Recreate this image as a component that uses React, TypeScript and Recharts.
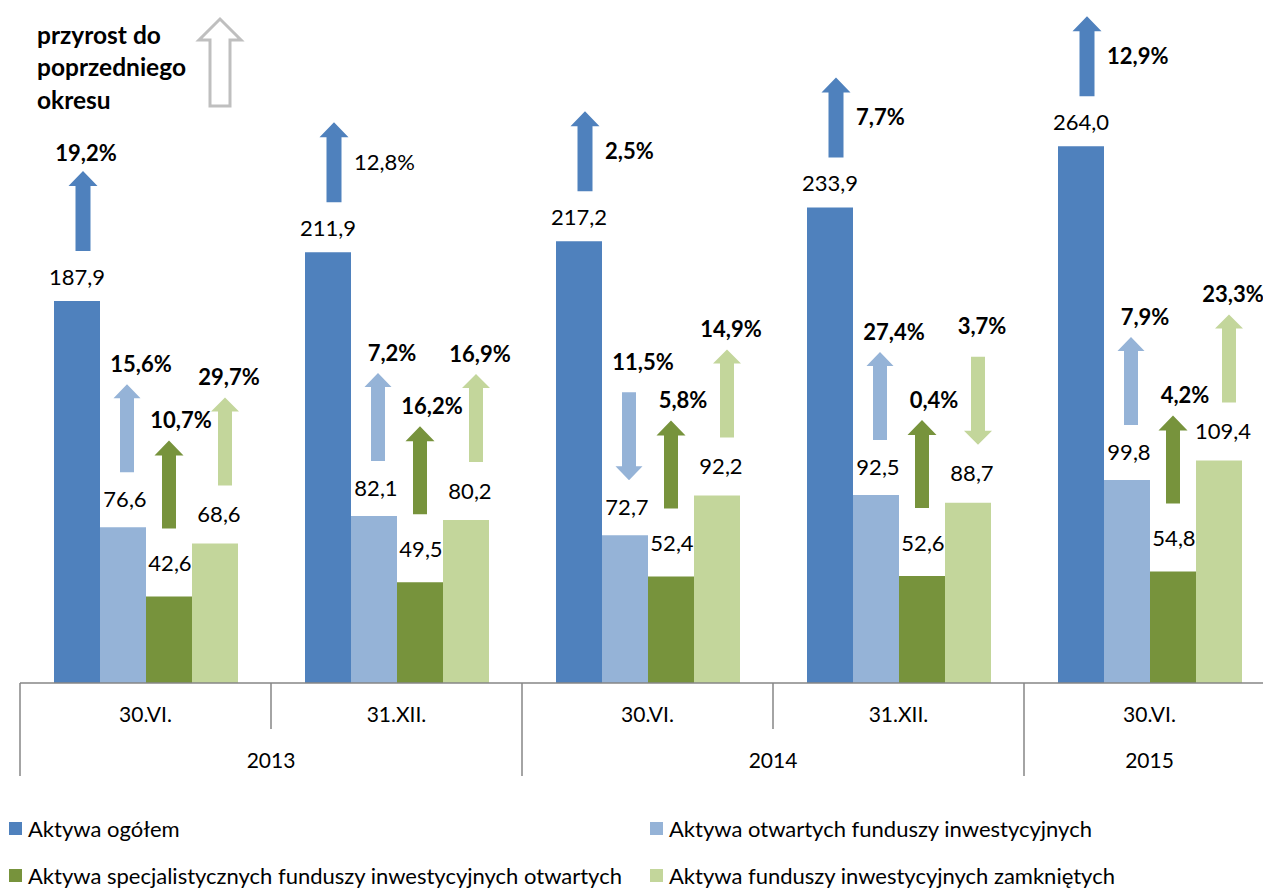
import { BarChart, Bar, XAxis, YAxis, LabelList, Legend, Customized } from "recharts";

const periods = ["30.VI.", "31.XII.", "30.VI.", "31.XII.", "30.VI."];
const years = ["2013", "2013", "2014", "2014", "2015"];

// mld zł
const total = [187.9, 211.9, 217.2, 233.9, 264.0];
const openFunds = [76.6, 82.1, 72.7, 92.5, 99.8];
const specialistFunds = [42.6, 49.5, 52.4, 52.6, 54.8];
const closedFunds = [68.6, 80.2, 92.2, 88.7, 109.4];

// przyrost do poprzedniego okresu, %
const totalGrowth = [19.2, 12.8, 2.5, 7.7, 12.9];
const openGrowth = [15.6, 7.2, -11.5, 27.4, 7.9];
const specialistGrowth = [10.7, 16.2, 5.8, 0.4, 4.2];
const closedGrowth = [29.7, 16.9, 14.9, -3.7, 23.3];

const FONT = "Lato, 'Open Sans', sans-serif";
const CHART_W = 1290;
const CHART_H = 889;
const MARGIN = { top: 73, right: 15, bottom: 0, left: 20 };
const X_AXIS_H = 206;
const AXIS_Y = CHART_H - MARGIN.bottom - X_AXIS_H;
const BAND = (CHART_W - MARGIN.left - MARGIN.right) / periods.length;

const series = [
  { key: "total", name: "Aktywa ogółem", color: "#4F81BD", growth: totalGrowth },
  { key: "open", name: "Aktywa otwartych funduszy inwestycyjnych", color: "#95B3D7", growth: openGrowth },
  { key: "specialist", name: "Aktywa specjalistycznych funduszy inwestycyjnych otwartych", color: "#77933C", growth: specialistGrowth },
  { key: "closed", name: "Aktywa funduszy inwestycyjnych zamkniętych", color: "#C3D69B", growth: closedGrowth },
];

// arrow geometry per series (px, relative to the bar top)
const arrowLayout: Record<string, any> = {
  total: { gap: 50, len: 80, dx: 6, shaft: 15, head: 29, headH: 15, labelLift: 24, labelDx: 0, noteDx: 0 },
  open: { gap: 55, len: 88, dx: 4, shaft: 14, head: 27, headH: 14, labelLift: 28, labelDx: 2, noteDx: 14 },
  specialist: { gap: 68, len: 88, dx: 0, shaft: 14, head: 29, headH: 15, labelLift: 33, labelDx: 1, noteDx: 12 },
  closed: { gap: 58, len: 88, dx: 10, shaft: 14, head: 28, headH: 14, labelLift: 29, labelDx: 4, noteDx: 4 },
};
const totalNoteAbove = [true, false, false, false, false];
const plainNotes = new Set(["total-1"]);

const data = periods.map((p, i) => ({
  period: p,
  year: years[i],
  total: total[i],
  open: openFunds[i],
  specialist: specialistFunds[i],
  closed: closedFunds[i],
}));

const fmt = (v: number) => v.toFixed(1).replace(".", ",");

function arrowPath(cx: number, yBase: number, yTip: number, shaftW: number, headW: number, headH: number) {
  const dir = yTip < yBase ? -1 : 1;
  const yNeck = yTip - dir * headH;
  return `M${cx - shaftW / 2},${yBase} L${cx - shaftW / 2},${yNeck} L${cx - headW / 2},${yNeck} L${cx},${yTip} L${cx + headW / 2},${yNeck} L${cx + shaftW / 2},${yNeck} L${cx + shaftW / 2},${yBase} Z`;
}

const makeAnnotation = (s: (typeof series)[number]) => (props: any) => {
  const vb = props.viewBox ?? props;
  const x = vb.x ?? props.x;
  const y = vb.y ?? props.y;
  const width = vb.width ?? props.width;
  const i = props.index;
  const L = arrowLayout[s.key];
  const cx = x + width / 2;
  const g = s.growth[i];
  const ax = cx + L.dx;
  const near = y - L.gap;
  const far = near - L.len;
  const up = g >= 0;
  const d = up
    ? arrowPath(ax, near, far, L.shaft, L.head, L.headH)
    : arrowPath(ax, far, near, L.shaft, L.head, L.headH);

  let noteX = ax + L.noteDx;
  let noteY = far - (up ? 20 : 30);
  let anchor: "middle" | "start" = "middle";
  if (s.key === "total" && !totalNoteAbove[i]) {
    noteX = ax + 20;
    noteY = (near + far) / 2;
    anchor = "start";
  } else if (s.key === "total") {
    noteX = ax + 3;
    noteY = far - 18;
  }
  const weight = plainNotes.has(`${s.key}-${i}`) ? 400 : 700;

  return (
    <g>
      <text x={cx + L.labelDx} y={y - L.labelLift} dy="0.35em" textAnchor="middle" fontSize={22} fontFamily={FONT} fill="#000">
        {fmt(props.value)}
      </text>
      <path d={d} fill={s.color} />
      <text x={noteX} y={noteY} dy="0.35em" textAnchor={anchor} fontSize={22} fontWeight={weight} fontFamily={FONT} fill="#000">
        {fmt(Math.abs(g))}%
      </text>
    </g>
  );
};

function PeriodTick(props: any) {
  const { x, payload } = props;
  const i = props.index ?? payload.index;
  const left = x - BAND / 2;
  const yearStart = i === 0 || years[i] !== years[i - 1];
  let span = 1;
  while (i + span < years.length && years[i + span] === years[i]) span++;
  const line = "#868686";
  return (
    <g>
      <line x1={left} x2={left} y1={AXIS_Y} y2={AXIS_Y + (yearStart ? 93 : 46)} stroke={line} strokeWidth={1.5} />
      {i === periods.length - 1 && (
        <line x1={x + BAND / 2} x2={x + BAND / 2} y1={AXIS_Y} y2={AXIS_Y + 93} stroke={line} strokeWidth={1.5} />
      )}
      <text x={x} y={AXIS_Y + 32} dy="0.35em" textAnchor="middle" fontSize={21} fontFamily={FONT} fill="#000">
        {payload.value}
      </text>
      {yearStart && (
        <text x={left + (span * BAND) / 2} y={AXIS_Y + 78} dy="0.35em" textAnchor="middle" fontSize={21} fontFamily={FONT} fill="#000">
          {years[i]}
        </text>
      )}
    </g>
  );
}

function TitleNote() {
  const lines = ["przyrost do", "poprzedniego", "okresu"];
  return (
    <g>
      {lines.map((t, k) => (
        <text key={k} x={37} y={35 + k * 32.5} dy="0.35em" fontSize={24.5} fontWeight={700} fontFamily={FONT} fill="#000">
          {t}
        </text>
      ))}
      <path d={arrowPath(220, 106, 19, 20, 42, 21)} fill="#fff" stroke="#BFBFBF" strokeWidth={3} />
    </g>
  );
}

function LegendBox() {
  return (
    <div style={{ position: "relative", width: 1263, height: 75, fontFamily: FONT, fontSize: 22, color: "#000" }}>
      {series.map((s, k) => (
        <div
          key={s.key}
          style={{
            position: "absolute",
            left: k % 2 === 0 ? 9 : 650,
            top: Math.floor(k / 2) * 47,
            display: "flex",
            alignItems: "center",
            height: 26,
            whiteSpace: "nowrap",
          }}
        >
          <span style={{ display: "inline-block", width: 13, height: 13, background: s.color }} />
          <span style={{ marginLeft: 6 }}>{s.name}</span>
        </div>
      ))}
    </div>
  );
}

export default function App() {
  return (
    <div style={{ position: "absolute", left: 0, top: 0, width: 1263, height: 889, overflow: "hidden", background: "#fff" }}>
      <BarChart width={CHART_W} height={CHART_H} data={data} margin={MARGIN} barCategoryGap={34} barGap={0}>
        <XAxis
          dataKey="period"
          height={X_AXIS_H}
          interval={0}
          tickLine={false}
          axisLine={{ stroke: "#868686", strokeWidth: 1.5 }}
          tick={<PeriodTick />}
        />
        <YAxis hide domain={[0, 300]} />
        {series.map((s) => (
          <Bar key={s.key} dataKey={s.key} name={s.name} fill={s.color} isAnimationActive={false}>
            <LabelList dataKey={s.key} content={makeAnnotation(s)} />
          </Bar>
        ))}
        <Legend
          layout="horizontal"
          verticalAlign="middle"
          align="center"
          wrapperStyle={{ left: 0, top: 815, width: 1263 }}
          content={<LegendBox />}
        />
        <Customized component={<TitleNote />} />
      </BarChart>
    </div>
  );
}
